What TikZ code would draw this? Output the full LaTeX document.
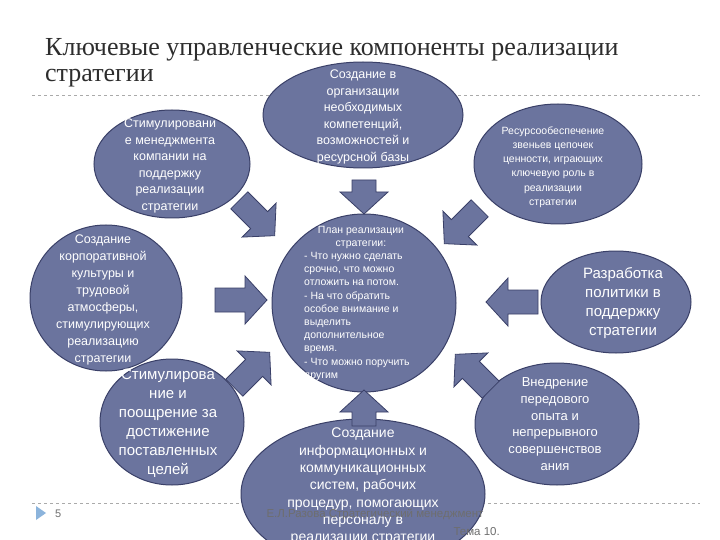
\documentclass[tikz,border=0pt]{standalone}
\usepackage{fontspec}
\setmainfont{Liberation Sans}
\newfontfamily\titlefont{Liberation Serif}
\usetikzlibrary{shapes.geometric}
\definecolor{bubfill}{RGB}{107,116,158}
\definecolor{bubline}{RGB}{58,64,104}
\definecolor{titlecol}{RGB}{45,45,45}
\definecolor{rulecol}{RGB}{170,170,170}
\definecolor{footcol}{RGB}{110,110,110}
\definecolor{markcol}{RGB}{140,180,220}
\tikzset{
  bub/.style={ellipse, draw=bubline, fill=bubfill, line width=1pt, inner sep=0pt},
  txt/.style={text=white, align=center, inner sep=0pt},
  blk/.style={draw=bubline, fill=bubfill, line width=0.8pt, line join=miter},
  barrow/.pic={
    \draw[blk] (-#1/2,-12) -- (#1/2-22,-12) -- (#1/2-22,-24) -- (#1/2,0)
      -- (#1/2-22,24) -- (#1/2-22,12) -- (-#1/2,12) -- cycle;
  },
  rule/.style={draw=rulecol, dashed, line width=0.6pt}
}
\begin{document}
\begin{tikzpicture}[x=1pt,y=-1pt]
\useasboundingbox (0,0) rectangle (720,540);
\clip (0,0) rectangle (720,540);
\fill[white] (0,0) rectangle (720,540);

% title
\node[anchor=base west, font=\titlefont\fontsize{26}{28}\selectfont, text=titlecol, inner sep=0pt] (title1) at (45,56) {Ключевые управленческие компоненты реализации};
\node[anchor=base west, font=\titlefont\fontsize{26}{28}\selectfont, text=titlecol, inner sep=0pt] (title2) at (45,82) {стратегии};
\coordinate (r1a) at (32,95);
\coordinate (r1b) at (700,95);
\draw[rule] (r1a) -- (r1b);
\coordinate (r2a) at (32,503);
\coordinate (r2b) at (700,503);
\draw[rule] (r2a) -- (r2b);

% top centre
\node[bub, minimum width=200pt, minimum height=106pt] (e1) at (363,115) {};
\node[txt, font=\fontsize{12.5}{16.5}\selectfont] (t1) at (363,117) {Создание в\\организации\\необходимых\\компетенций,\\возможностей и\\ресурсной базы};

% top left
\node[bub, minimum width=156pt, minimum height=108pt] (e2) at (172,164) {};
\node[txt, font=\fontsize{12.5}{16.5}\selectfont] (t2) at (170,166) {Стимулировани\\е менеджмента\\компании на\\поддержку\\реализации\\стратегии};

% top right
\node[bub, minimum width=168pt, minimum height=120pt] (e3) at (558,164) {};
\node[txt, font=\fontsize{10.5}{14.3}\selectfont] (t3) at (553,167) {Ресурсообеспечение\\звеньев цепочек\\ценности, играющих\\ключевую роль в\\реализации\\стратегии};

% left middle
\node[bub, minimum width=152pt, minimum height=146pt] (e4) at (106,298) {};
\node[txt, font=\fontsize{12.5}{17}\selectfont] (t4) at (103,300) {Создание\\корпоративной\\культуры и\\трудовой\\атмосферы,\\стимулирующих\\реализацию\\стратегии};

% bottom left
\node[bub, minimum width=144pt, minimum height=126pt] (e5) at (172,422) {};
\node[txt, font=\fontsize{15}{19}\selectfont] (t5) at (168,423) {Стимулирова\\ние и\\поощрение за\\достижение\\поставленных\\целей};

% right middle
\node[bub, minimum width=150pt, minimum height=102pt] (e6) at (616,302) {};
\node[txt, font=\fontsize{15}{19}\selectfont] (t6) at (623,303) {Разработка\\политики в\\поддержку\\стратегии};

% bottom right
\node[bub, minimum width=164pt, minimum height=122pt] (e7) at (557,424) {};
\node[txt, font=\fontsize{13}{16.8}\selectfont] (t7) at (555,424) {Внедрение\\передового\\опыта и\\непрерывного\\совершенствов\\ания};

% centre circle
\node[bub, minimum width=184pt, minimum height=178pt] (c) at (364,303) {};
\node[txt, font=\fontsize{10.5}{13.2}\selectfont, anchor=north] (ch) at (361,226) {План реализации\\стратегии:};
\node[txt, font=\fontsize{10.5}{13.2}\selectfont, align=left, anchor=north west] (cb) at (304,252) {- Что нужно сделать\\срочно, что можно\\отложить на потом.\\- На что обратить\\особое внимание и\\выделить\\дополнительное\\время.\\- Что можно поручить\\другим};

% bottom centre
\node[bub, minimum width=244pt, minimum height=150pt] (e8) at (363,494) {};
\node[txt, font=\fontsize{14}{17.3}\selectfont, anchor=north] (t8) at (363,428) {Создание\\информационных и\\коммуникационных\\систем, рабочих\\процедур, помогающих\\персоналу в\\реализации стратегии};

% block arrows
\pic[rotate=-90] at (364,197) {barrow=34};
\pic[rotate=-45] at (257,218) {barrow=50};
\pic[rotate=-135] at (462,226) {barrow=50};
\pic[rotate=0] at (241,300) {barrow=52};
\pic[rotate=180] at (512,302) {barrow=52};
\pic[rotate=45] at (252,370) {barrow=50};
\pic[rotate=135] at (473,372) {barrow=50};
\pic[rotate=90] at (364,408) {barrow=36};

% footer
\fill[markcol] (36,506) -- (46,513) -- (36,520) -- cycle;
\node[anchor=base west, font=\fontsize{11}{13}\selectfont, text=footcol, inner sep=0pt] (pg) at (55,517) {5};
\node[anchor=base, font=\fontsize{11.5}{13}\selectfont, text=footcol, inner sep=0pt] (f1) at (375,517) {Е.Л.Разова Стратегический менеджмент};
\node[anchor=base east, font=\fontsize{11.5}{13}\selectfont, text=footcol, inner sep=0pt] (f2) at (500,535) {Тема 10.};
\end{tikzpicture}
\end{document}
